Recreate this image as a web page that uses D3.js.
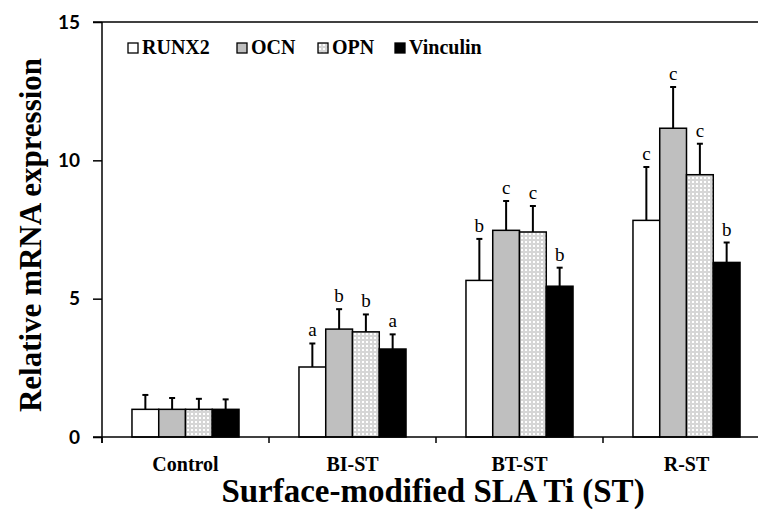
<!DOCTYPE html>
<html>
<head>
<meta charset="utf-8">
<script src="https://cdn.jsdelivr.net/npm/d3@7"></script>
<style>
  html, body { margin: 0; padding: 0; background: #fff; }
  svg { display: block; }
</style>
</head>
<body>
<svg id="chart" width="758" height="509"></svg>
<script>
// ---- data ----
const categories = ["Control", "BI-ST", "BT-ST", "R-ST"];
const seriesNames = ["RUNX2", "OCN", "OPN", "Vinculin"];
const runx2 = [1.0, 2.53, 5.66, 7.83];
const ocn = [1.0, 3.90, 7.47, 11.16];
const opn = [1.0, 3.80, 7.41, 9.48];
const vinculin = [1.0, 3.18, 5.45, 6.31];
const runx2Err = [0.52, 0.85, 1.50, 1.93];
const ocnErr = [0.41, 0.72, 1.06, 1.49];
const opnErr = [0.38, 0.63, 0.94, 1.12];
const vinculinErr = [0.36, 0.53, 0.67, 0.72];
const runx2Sig = ["", "a", "b", "c"];
const ocnSig = ["", "b", "c", "c"];
const opnSig = ["", "b", "c", "c"];
const vinculinSig = ["", "a", "b", "b"];
const yTicks = [0, 5, 10, 15];

(function () {
const values = [runx2, ocn, opn, vinculin];
const errors = [runx2Err, ocnErr, opnErr, vinculinErr];
const sigs = [runx2Sig, ocnSig, opnSig, vinculinSig];

const svg = d3.select("#chart");
const defs = svg.append("defs");
const pat = defs.append("pattern").attr("id", "dots")
  .attr("patternUnits", "userSpaceOnUse").attr("width", 4).attr("height", 4);
pat.append("rect").attr("width", 4).attr("height", 4).attr("fill", "#d6d6d6");
pat.append("rect").attr("x", 1).attr("y", 1).attr("width", 2).attr("height", 2).attr("fill", "#ffffff");

const fills = ["#ffffff", "#bfbfbf", "url(#dots)", "#000000"];

const pLeft = 102, pRight = 770, pTop = 22, pBottom = 437;
const x0 = d3.scaleBand().domain(categories).range([pLeft, pRight]).padding(0);
const x1 = d3.scaleBand().domain(seriesNames).range([0, x0.bandwidth()])
  .paddingInner(0).paddingOuter(1.12);
const y = d3.scaleLinear().domain([0, 15]).range([pBottom, pTop]);

const serif = "'Liberation Serif', 'Times New Roman', serif";

// top border
svg.append("line").attr("x1", pLeft - 9).attr("x2", pRight)
  .attr("y1", y(15)).attr("y2", y(15)).attr("stroke", "#000").attr("stroke-width", 1.5);

// y axis
const yAxis = svg.append("g").attr("transform", `translate(${pLeft},0)`)
  .call(d3.axisLeft(y).tickValues(yTicks).tickSize(9).tickPadding(13).tickFormat(d3.format("d")));
yAxis.select(".domain").attr("stroke-width", 1.5).attr("d", `M0,${pTop}V${pBottom + 6}`);
yAxis.selectAll(".tick line").attr("stroke-width", 1.5);
yAxis.selectAll(".tick text").attr("font-family", "Lato, 'Open Sans', sans-serif")
  .attr("font-weight", 700).attr("font-size", 19).attr("fill", "#000");

// bars
const groups = svg.append("g").selectAll("g").data(categories).join("g")
  .attr("transform", d => `translate(${x0(d)},0)`);

seriesNames.forEach((s, si) => {
  groups.append("rect")
    .attr("x", x1(s))
    .attr("y", (d, i) => y(values[si][i]))
    .attr("width", x1.bandwidth())
    .attr("height", (d, i) => y(0) - y(values[si][i]))
    .attr("fill", fills[si])
    .attr("stroke", "#000").attr("stroke-width", 1.5);
  groups.append("line")
    .attr("x1", x1(s) + x1.bandwidth() / 2).attr("x2", x1(s) + x1.bandwidth() / 2)
    .attr("y1", (d, i) => y(values[si][i]))
    .attr("y2", (d, i) => y(values[si][i] + errors[si][i]))
    .attr("stroke", "#000").attr("stroke-width", 2);
  groups.append("line")
    .attr("x1", x1(s) + x1.bandwidth() / 2 - 3).attr("x2", x1(s) + x1.bandwidth() / 2 + 3)
    .attr("y1", (d, i) => y(values[si][i] + errors[si][i]))
    .attr("y2", (d, i) => y(values[si][i] + errors[si][i]))
    .attr("stroke", "#000").attr("stroke-width", 2);
  groups.append("text")
    .attr("x", x1(s) + x1.bandwidth() / 2)
    .attr("y", (d, i) => y(values[si][i] + errors[si][i]) - 7)
    .attr("text-anchor", "middle")
    .attr("font-family", serif).attr("font-size", 19).attr("fill", "#000")
    .text((d, i) => sigs[si][i]);
});

// x axis
svg.append("line").attr("x1", pLeft - 9).attr("x2", pRight)
  .attr("y1", pBottom).attr("y2", pBottom).attr("stroke", "#000").attr("stroke-width", 1.5);
categories.forEach(c => {
  svg.append("line").attr("x1", x0(c)).attr("x2", x0(c))
    .attr("y1", pBottom).attr("y2", pBottom + 6).attr("stroke", "#000").attr("stroke-width", 1.5);
});
const xAxis = svg.append("g").attr("transform", `translate(0,${pBottom})`)
  .call(d3.axisBottom(x0).tickSize(0).tickPadding(0));
xAxis.select(".domain").remove();
xAxis.selectAll(".tick text").attr("font-family", serif).attr("font-weight", 700)
  .attr("font-size", 20).attr("fill", "#000").attr("dy", null).attr("y", 34);

// axis titles
svg.append("text").attr("x", 433).attr("y", 502).attr("text-anchor", "middle")
  .attr("font-family", serif).attr("font-weight", 700).attr("font-size", 33).attr("fill", "#000")
  .text("Surface-modified SLA Ti (ST)");
svg.append("text").attr("transform", "translate(41,235) rotate(-90)").attr("text-anchor", "middle")
  .attr("font-family", serif).attr("font-weight", 700).attr("font-size", 31).attr("fill", "#000")
  .text("Relative mRNA expression");

// legend
const legendX = [128, 237, 318, 395];
const leg = svg.append("g").selectAll("g").data(seriesNames).join("g")
  .attr("transform", (d, i) => `translate(${legendX[i]},43)`);
leg.append("rect").attr("width", 10).attr("height", 10)
  .attr("fill", (d, i) => fills[i]).attr("stroke", "#000").attr("stroke-width", 1.3);
leg.append("text").attr("x", 14).attr("y", 11)
  .attr("font-family", serif).attr("font-weight", 700).attr("font-size", 20).attr("fill", "#000")
  .text(d => d);
})();
</script>
</body>
</html>
